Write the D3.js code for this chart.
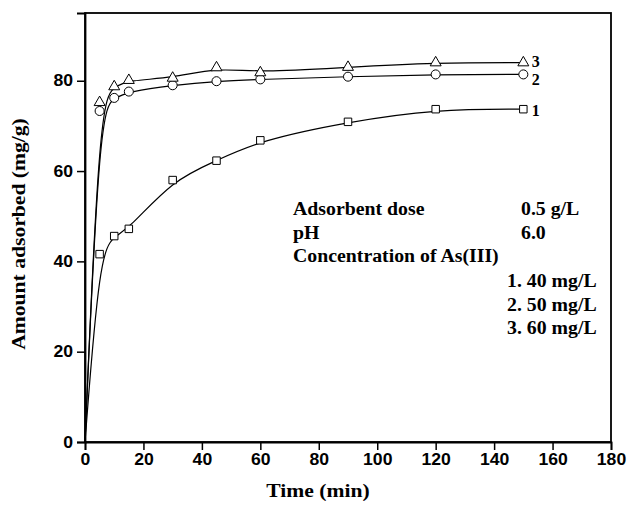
<!DOCTYPE html>
<html><head><meta charset="utf-8">
<script src="https://cdn.jsdelivr.net/npm/d3@7"></script>
<style>body{margin:0;background:#fff}</style>
</head><body>
<script>
const times = [0, 5, 10, 15, 30, 45, 60, 90, 120, 150];
const series1 = [0, 41.6, 45.6, 47.2, 58.0, 62.3, 66.8, 70.9, 73.7, 73.7];
const series2 = [0, 73.3, 76.2, 77.6, 79.0, 79.9, 80.3, 80.9, 81.4, 81.4];
const series3 = [0, 75.2, 78.7, 80.1, 80.6, 82.9, 81.8, 83.0, 84.0, 84.0];
const seriesLabels = ["1", "2", "3"];
const markerTypes = ["square", "circle", "triangle"];
const xTicks = [0, 20, 40, 60, 80, 100, 120, 140, 160, 180];
const yTicks = [0, 20, 40, 60, 80];
const infoLeft = ["Adsorbent dose", "pH", "Concentration of As(III)"];
const infoRight = ["0.5 g/L", "6.0", ""];
const concLabels = ["1. 40 mg/L", "2. 50 mg/L", "3. 60 mg/L"];

const W = 627, H = 516;
const m = {l: 85, r: 16, t: 13, b: 74};
const svg = d3.select("body").append("svg").attr("width", W).attr("height", H);
const x = d3.scaleLinear().domain([0, 180]).range([m.l, W - m.r]);
const y = d3.scaleLinear().domain([0, 95]).range([H - m.b, m.t]);
const serif = "Liberation Serif, Times New Roman, serif";

function stretch(sel, f) {
  sel.each(function () {
    const w = this.getComputedTextLength();
    if (w > 0) d3.select(this).attr("textLength", w * f).attr("lengthAdjust", "spacingAndGlyphs");
  });
  return sel;
}

// frame
svg.append("rect").attr("x", x(0)).attr("y", y(95)).attr("width", x(180) - x(0)).attr("height", y(0) - y(95))
  .attr("fill", "none").attr("stroke", "#000").attr("stroke-width", 1.8);

const xa = svg.append("g").attr("transform", `translate(0,${y(0)})`)
  .call(d3.axisBottom(x).tickValues(xTicks).tickSize(8).tickPadding(4).tickFormat(d3.format("d")));
const ya = svg.append("g").attr("transform", `translate(${x(0)},0)`)
  .call(d3.axisLeft(y).tickValues(yTicks).tickSize(8).tickPadding(4).tickFormat(d3.format("d")));
[xa, ya].forEach(g => {
  g.select(".domain").attr("stroke-width", 1.8);
  g.selectAll(".tick line").attr("stroke-width", 1.5);
  const t = g.selectAll("text").attr("font-family", "Liberation Sans, Arial, sans-serif")
    .attr("font-weight", "bold").attr("font-size", 16).attr("fill", "#000");
  stretch(t, 1.1);
});

const all = [series1, series2, series3];
const line = d3.line().x((d, i) => x(times[i])).y(d => y(d)).curve(d3.curveBasis);
all.forEach(s => {
  svg.append("path").datum(s).attr("d", line).attr("fill", "none").attr("stroke", "#000").attr("stroke-width", 1.2);
});

const sym = {square: d3.symbolSquare, circle: d3.symbolCircle, triangle: d3.symbolTriangle};
const sizes = {square: 56, circle: 64, triangle: 52};
all.forEach((s, k) => {
  const t = markerTypes[k];
  svg.append("g").selectAll("path").data(s.slice(1)).join("path")
    .attr("transform", (d, i) => `translate(${x(times[i + 1])},${y(d)})`)
    .attr("d", d3.symbol().type(sym[t]).size(sizes[t]))
    .attr("fill", "#fff").attr("stroke", "#000").attr("stroke-width", 1);
});

// series labels at right end
const labelDy = [6.7, 11, 4.3];
all.forEach((s, k) => {
  svg.append("text").attr("x", x(150) + 8.5).attr("y", y(s[s.length - 1]) + labelDy[k])
    .attr("font-family", serif).attr("font-weight", "bold")
    .attr("font-size", 16).text(seriesLabels[k]);
});

infoLeft.forEach((t, i) => {
  stretch(svg.append("text").attr("x", 293).attr("y", 215 + i * 23.5).attr("font-family", serif)
    .attr("font-weight", "bold").attr("font-size", 18).text(t), 1.1);
});
infoRight.forEach((t, i) => {
  stretch(svg.append("text").attr("x", 521).attr("y", 215 + i * 23.5).attr("font-family", serif)
    .attr("font-weight", "bold").attr("font-size", 18).text(t), 1.1);
});
concLabels.forEach((t, i) => {
  stretch(svg.append("text").attr("x", 507).attr("y", 287 + i * 23.5).attr("font-family", serif)
    .attr("font-weight", "bold").attr("font-size", 18).text(t), 1.1);
});

stretch(svg.append("text").attr("x", 318).attr("y", 497).attr("text-anchor", "middle")
  .attr("font-family", serif).attr("font-weight", "bold").attr("font-size", 18).text("Time (min)"), 1.2);
stretch(svg.append("text").attr("transform", `translate(25,234) rotate(-90)`).attr("text-anchor", "middle")
  .attr("font-family", serif).attr("font-weight", "bold").attr("font-size", 18).text("Amount adsorbed (mg/g)"), 1.2);
</script>
</body></html>
